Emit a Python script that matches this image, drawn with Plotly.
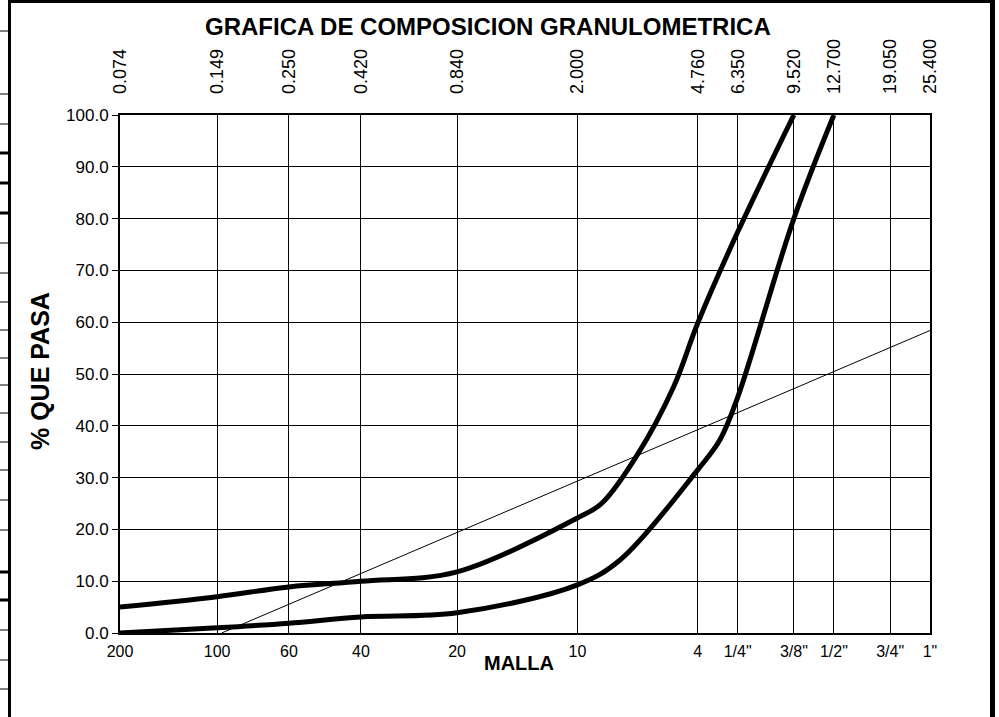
import math
import plotly.graph_objects as go

# Sieve openings (mm), top-axis labels and mesh designations
abertura_mm = [0.074, 0.149, 0.250, 0.420, 0.840, 2.000, 4.760, 6.350, 9.520, 12.700, 19.050, 25.400]
abertura_txt = ["0.074", "0.149", "0.250", "0.420", "0.840", "2.000",
                "4.760", "6.350", "9.520", "12.700", "19.050", "25.400"]
malla_txt = ["200", "100", "60", "40", "20", "10", "4", '1/4"', '3/8"', '1/2"', '3/4"', '1"']

# Gradation envelope: fine limit (upper curve)
fino_mm = [0.074, 0.149, 0.250, 0.420, 0.840, 2.000, 2.380, 3.080, 4.000, 4.760, 6.350, 9.520]
fino_pasa = [5.0, 7.0, 8.9, 10.0, 11.8, 22.2, 25.0, 34.4, 47.5, 59.8, 77.4, 100.0]

# Gradation envelope: coarse limit (lower curve)
grueso_mm = [0.074, 0.149, 0.250, 0.420, 0.840, 2.000, 2.720, 4.760, 5.590, 6.350, 9.520, 12.700]
grueso_pasa = [0.0, 1.0, 1.9, 3.1, 3.9, 9.3, 14.1, 31.5, 37.3, 45.5, 80.0, 100.0]

# Straight reference line (sample gradation)
recta_mm = [0.154, 25.400]
recta_pasa = [0.0, 58.4]

# Figure geometry (pixels)
W, H = 999, 717
ML, MR, MT, MB = 120, 69, 115, 84
PW, PH = W - ML - MR, H - MT - MB


def px(x):
    return (x - ML) / PW


def py(y):
    return (H - MB - y) / PH


FONT = "Liberation Sans, Arial, sans-serif"
xr = [math.log10(abertura_mm[0]), math.log10(abertura_mm[-1])]

fig = go.Figure()

fig.add_trace(go.Scatter(
    x=recta_mm, y=recta_pasa, mode="lines",
    line=dict(color="black", width=1), showlegend=False, hoverinfo="skip"))

fig.add_trace(go.Scatter(
    x=fino_mm, y=fino_pasa, mode="lines",
    line=dict(color="black", width=5, shape="spline", smoothing=1.0),
    showlegend=False))

fig.add_trace(go.Scatter(
    x=grueso_mm, y=grueso_pasa, mode="lines",
    line=dict(color="black", width=5, shape="spline", smoothing=1.0),
    showlegend=False))

# carrier for the top (mm) axis
fig.add_trace(go.Scatter(
    x=[abertura_mm[0], abertura_mm[-1]], y=[0, 0], xaxis="x2", mode="lines",
    line=dict(color="rgba(0,0,0,0)", width=0), showlegend=False, hoverinfo="skip"))

fig.update_layout(
    width=W, height=H,
    margin=dict(l=ML, r=MR, t=MT, b=MB, pad=0),
    paper_bgcolor="white", plot_bgcolor="white",
    font=dict(family=FONT, color="black", size=16),
    xaxis=dict(
        type="log", range=xr,
        tickmode="array", tickvals=abertura_mm, ticktext=malla_txt,
        ticks="", showgrid=True, gridcolor="black", gridwidth=1,
        showline=True, linecolor="black", linewidth=2, mirror=True,
        tickfont=dict(size=16), ticklabelstandoff=3, zeroline=False),
    xaxis2=dict(
        type="log", range=xr, overlaying="x", side="top",
        tickmode="array", tickvals=abertura_mm, ticktext=abertura_txt,
        tickangle=-90, ticks="", showgrid=False, showline=False,
        tickfont=dict(size=18), ticklabelstandoff=20, zeroline=False),
    yaxis=dict(
        range=[0, 100], dtick=10, tick0=0, tickformat=".1f",
        ticks="outside", ticklen=6, tickcolor="black", tickwidth=1,
        showgrid=True, gridcolor="black", gridwidth=1,
        showline=True, linecolor="black", linewidth=2, mirror=True,
        tickfont=dict(size=17), zeroline=False),
)

fig.add_annotation(
    text="<b>GRAFICA DE COMPOSICION GRANULOMETRICA</b>",
    xref="paper", yref="paper", x=px(488), y=py(27),
    showarrow=False, font=dict(size=24, family=FONT),
    xanchor="center", yanchor="middle")
fig.add_annotation(
    text="<b>% QUE PASA</b>", textangle=-90,
    xref="paper", yref="paper", x=px(40), y=py(371),
    showarrow=False, font=dict(size=25, family=FONT),
    xanchor="center", yanchor="middle")
fig.add_annotation(
    text="<b>MALLA</b>",
    xref="paper", yref="paper", x=px(519), y=py(663),
    showarrow=False, font=dict(size=20, family=FONT),
    xanchor="center", yanchor="middle")

# Sheet frame around the chart
shapes = [
    dict(type="line", xref="paper", yref="paper", x0=px(9.5), x1=px(9.5),
         y0=py(0), y1=py(H), line=dict(color="black", width=3)),
    dict(type="line", xref="paper", yref="paper", x0=px(8), x1=px(995),
         y0=py(1.5), y1=py(1.5), line=dict(color="black", width=3)),
    dict(type="line", xref="paper", yref="paper", x0=px(992.5), x1=px(992.5),
         y0=py(0), y1=py(H), line=dict(color="black", width=5)),
]
for yy in [31, 94, 124, 243, 273, 302, 330, 358, 385, 413, 442, 470, 500, 530, 630, 660, 689]:
    shapes.append(dict(type="line", xref="paper", yref="paper", x0=px(0), x1=px(8),
                       y0=py(yy), y1=py(yy), line=dict(color="black", width=1)))
for yy in [153, 183, 213, 572, 600]:
    shapes.append(dict(type="line", xref="paper", yref="paper", x0=px(0), x1=px(8),
                       y0=py(yy), y1=py(yy), line=dict(color="black", width=3)))
fig.update_layout(shapes=shapes)

fig.write_html("out.html")
